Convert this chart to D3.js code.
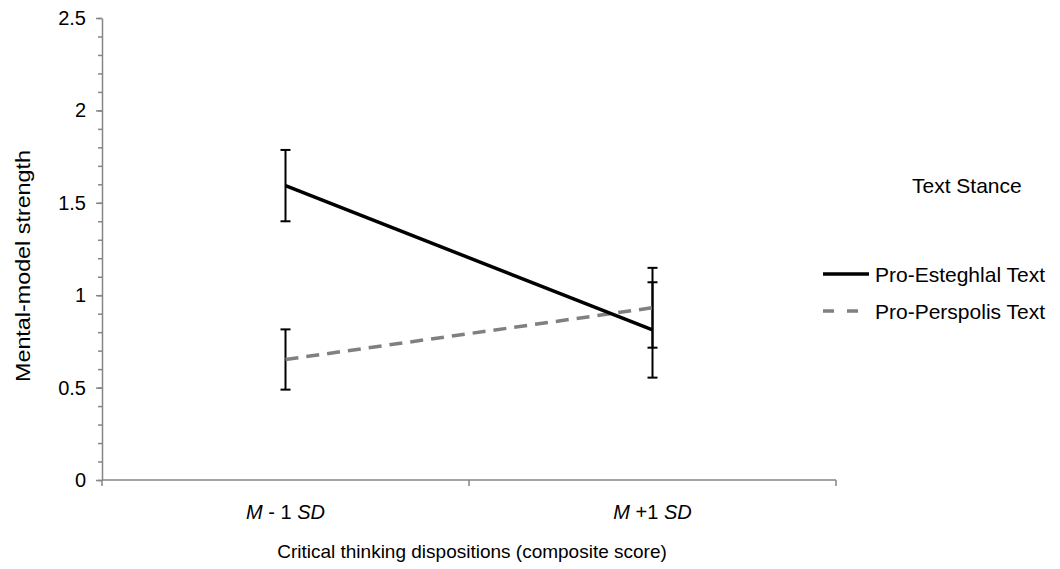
<!DOCTYPE html>
<html>
<head>
<meta charset="utf-8">
<script src="https://cdn.jsdelivr.net/npm/d3@7"></script>
<style>
  body { margin: 0; background: #fff; }
  svg { display: block; font-family: "Liberation Sans", Arial, sans-serif; }
  .axis path, .axis line { stroke: #868686; stroke-width: 1.5; }
  .axis text { fill: #000; font-size: 20px; }
</style>
</head>
<body>
<svg id="chart" width="1060" height="569"></svg>
<script>
// chart values
const categories = ['M - 1 SD', 'M +1 SD'];
const seriesNames = ['Pro-Esteghlal Text', 'Pro-Perspolis Text'];
const esteghlal = [1.593, 0.812];
const esteghlalErr = [0.193, 0.258];
const perspolis = [0.652, 0.932];
const perspolisErr = [0.163, 0.216];
const yTicks = [0, 0.5, 1, 1.5, 2, 2.5];

const svg = d3.select('#chart');
const margin = {top: 18, left: 102, right: 224, bottom: 89};
const width = 1060, height = 569;

const x = d3.scaleBand().domain(categories).range([margin.left, width - margin.right]);
const y = d3.scaleLinear().domain([0, 2.5]).range([height - margin.bottom, margin.top]);

// minor ticks (every 0.1)
svg.append('g')
  .attr('class', 'axis')
  .attr('transform', `translate(${margin.left},0)`)
  .call(d3.axisLeft(y).tickValues(d3.range(0, 26).map(i => i / 10)).tickSize(4).tickFormat(''))
  .call(g => g.select('.domain').remove());

// major y axis
svg.append('g')
  .attr('class', 'axis')
  .attr('transform', `translate(${margin.left},0)`)
  .call(d3.axisLeft(y).tickValues(yTicks).tickSize(6).tickPadding(10).tickFormat(d => String(d)).tickSizeOuter(0));

// x axis: ticks at category boundaries
const xAxis = svg.append('g')
  .attr('class', 'axis')
  .attr('transform', `translate(0,${y(0)})`);
xAxis.append('line')
  .attr('x1', margin.left).attr('x2', width - margin.right);
xAxis.selectAll('line.tick')
  .data([...categories.map(c => x(c)), x(categories[categories.length - 1]) + x.bandwidth()])
  .join('line')
  .attr('class', 'tick')
  .attr('x1', d => d).attr('x2', d => d)
  .attr('y1', 0).attr('y2', 6);

// category labels with italic M / SD
const catLabels = svg.append('g')
  .selectAll('text')
  .data(categories)
  .join('text')
  .attr('x', d => x(d) + x.bandwidth() / 2)
  .attr('y', 519)
  .attr('text-anchor', 'middle')
  .attr('font-size', 20)
  .attr('fill', '#000');
catLabels.each(function (d) {
  const t = d3.select(this);
  d.split(' ').forEach((part, i, arr) => {
    t.append('tspan')
      .attr('font-style', (part === 'M' || part === 'SD') ? 'italic' : 'normal')
      .text(part + (i < arr.length - 1 ? ' ' : ''));
  });
});

// axis titles
svg.append('text')
  .attr('x', 472)
  .attr('y', 558)
  .attr('text-anchor', 'middle')
  .attr('font-size', 19)
  .text('Critical thinking dispositions (composite score)');

svg.append('text')
  .attr('transform', 'translate(30,266) rotate(-90)')
  .attr('text-anchor', 'middle')
  .attr('font-size', 21)
  .attr('textLength', 232)
  .attr('lengthAdjust', 'spacingAndGlyphs')
  .text('Mental-model strength');

// lines
const cx = c => x(c) + x.bandwidth() / 2;
const line = d3.line().x(d => cx(d.cat)).y(d => y(d.v));

const series = [
  {name: seriesNames[0], values: esteghlal, err: esteghlalErr, color: '#000', dash: null},
  {name: seriesNames[1], values: perspolis, err: perspolisErr, color: '#808080', dash: '13,8'}
];

// error bars
series.forEach(s => {
  const g = svg.append('g').attr('stroke', '#000').attr('stroke-width', 2);
  categories.forEach((c, i) => {
    const lo = y(s.values[i] - s.err[i]), hi = y(s.values[i] + s.err[i]);
    g.append('line').attr('x1', cx(c)).attr('x2', cx(c)).attr('y1', lo).attr('y2', hi);
    g.append('line').attr('x1', cx(c) - 5).attr('x2', cx(c) + 5).attr('y1', lo).attr('y2', lo);
    g.append('line').attr('x1', cx(c) - 5).attr('x2', cx(c) + 5).attr('y1', hi).attr('y2', hi);
  });
});

series.slice().reverse().forEach(s => {
  svg.append('path')
    .datum(categories.map((c, i) => ({cat: c, v: s.values[i]})))
    .attr('d', line)
    .attr('fill', 'none')
    .attr('stroke', s.color)
    .attr('stroke-width', 3.5)
    .attr('stroke-dasharray', s.dash);
});

// legend
svg.append('text')
  .attr('x', 912).attr('y', 193)
  .attr('font-size', 21)
  .text('Text Stance');

const legend = svg.append('g')
  .selectAll('g')
  .data(series)
  .join('g')
  .attr('transform', (d, i) => `translate(823,${274 + i * 37})`);
legend.append('line')
  .attr('x1', 0).attr('x2', 46)
  .attr('stroke', d => d.color)
  .attr('stroke-width', 3.5)
  .attr('stroke-dasharray', d => d.dash ? '11,13' : null);
legend.append('text')
  .attr('x', 52).attr('y', 8)
  .attr('font-size', 21)
  .text(d => d.name);
</script>
</body>
</html>
